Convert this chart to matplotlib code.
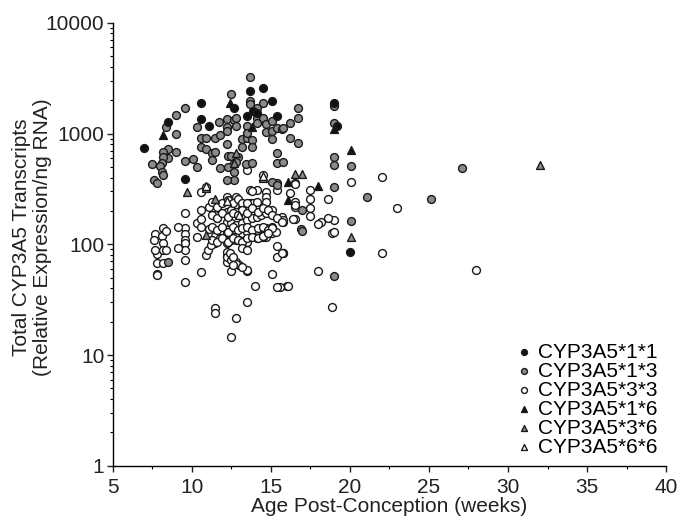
import matplotlib.pyplot as plt
from matplotlib.ticker import LogLocator, FixedLocator, NullFormatter

plt.rcParams['font.family'] = ['Liberation Sans', 'DejaVu Sans']

# CYP3A5*1*1 (black circles)
age_11 = [7.0, 8.5, 9.6, 10.6, 10.6, 11.1, 12.7, 13.7, 14.5, 15.1, 13.5, 13.9,
          14.1, 15.4, 19.0, 19.2, 20.0]
expr_11 = [733, 1282, 385, 1901, 1364, 1181, 1714, 2439, 2600, 1983, 1452, 1611,
           1546, 1452, 1901, 1181, 85]

# CYP3A5*1*3 (grey circles)
age_13 = [13.7, 12.5, 13.7, 13.7, 14.5, 9.0, 9.6, 8.4, 9.0, 9.0, 8.5, 8.5, 8.2, 8.2,
          8.1, 8.0, 7.5, 8.1, 8.2, 7.6, 7.8, 9.6, 10.1, 10.3, 10.3, 10.6, 10.6, 10.9,
          10.9, 11.3, 11.3, 11.5, 11.5, 11.8, 11.8, 11.7, 12.2, 12.7, 12.8, 12.2, 12.2,
          12.8, 12.2, 12.3, 12.5, 12.9, 12.7, 12.8, 12.3, 12.7, 12.7, 13.2, 13.2, 13.5,
          13.8, 13.8, 13.4, 13.8, 13.5, 13.5, 14.1, 14.1, 14.1, 14.5, 14.7, 14.7, 15.1,
          15.1, 15.1, 15.4, 15.7, 15.8, 15.4, 15.4, 15.8, 15.4, 16.2, 16.2, 16.7, 16.7,
          16.7, 17.0, 19.0, 19.0, 19.0, 19.0, 19.0, 20.1, 20.1, 21.1, 27.1, 25.1, 16.9,
          17.0, 19.0, 8.5, 12.2, 15.1, 15.4]
expr_13 = [3266, 2291, 1983, 1850, 1901, 1483, 1714, 1156, 980, 675, 718, 596, 675, 608,
           537, 505, 526, 446, 419, 378, 355, 560, 584, 494, 1156, 920, 748, 718,
           920, 661, 572, 675, 920, 960, 484, 1282, 1364, 1336, 1393, 1156, 1064,
           1181, 796, 621, 621, 608, 537, 548, 494, 446, 378, 901, 748, 920,
           865, 748, 526, 537, 1181, 1021, 1393, 1714, 1256, 1393, 1230, 1042, 1064,
           1309, 901, 1132, 1109, 1132, 661, 537, 548, 355, 1256, 920, 1714, 1393,
           813, 202, 1786, 1256, 608, 515, 327, 505, 161, 265, 484, 254, 137,
           131, 52, 69, 378, 362, 340]

# CYP3A5*3*3 (open circles)
age_33 = [22.0, 20.1, 23.0, 22.0, 28.0, 18.9, 19.0, 18.9, 19.0, 18.0, 18.2, 18.6, 17.5,
          17.5, 16.5, 16.2, 16.5, 16.5, 16.5, 15.8, 15.8, 16.0, 15.6,
          7.8, 7.8, 8.2, 7.8, 7.8, 9.6, 9.6, 10.6, 10.9, 12.2, 12.2, 12.8, 13.0, 13.5,
          12.5, 14.0, 15.1, 15.4, 16.1, 15.4, 15.8, 13.5, 11.5, 11.5, 12.8, 12.5,
          9.6, 9.6, 9.6, 9.6, 9.6, 9.6, 7.7, 7.6, 7.7, 8.2, 8.1, 8.4, 8.2, 8.2, 8.4,
          9.1, 9.1, 10.3, 10.6, 10.3, 10.6, 10.6, 10.6, 10.9, 11.1, 11.5, 11.6, 11.1,
          11.5, 11.5, 11.8, 11.8, 11.0, 11.2, 12.2, 12.5, 12.8,
          12.2, 12.5, 12.8, 13.2, 13.5, 13.7, 13.9, 14.1,
          12.2, 12.5, 12.8, 13.2, 13.5, 13.8, 14.1, 14.4, 14.7, 15.1,
          12.2, 12.5, 12.8, 13.2, 13.5, 13.8, 14.1, 14.4, 14.7, 15.1,
          12.2, 12.5, 12.8, 13.5, 14.1, 14.7,
          12.2, 12.2, 12.5, 12.8, 13.5,
          13.7, 14.1, 13.5, 14.5, 15.4, 16.5, 15.4, 15.7, 15.8, 15.4, 15.7, 14.5,
          14.5, 15.1, 15.3, 17.5, 17.5, 18.0, 18.6,
          13.8, 14.7, 14.7, 14.7, 16.5, 16.4,
          11.3, 11.6, 11.9, 12.3, 12.6, 12.9, 13.2, 13.5,
          11.3, 11.6, 11.9, 12.3, 12.6, 12.9, 13.2, 13.5, 13.8, 14.2, 14.5, 14.8,
          15.1, 15.4, 15.7,
          11.3, 11.6, 11.9, 12.3, 12.6, 12.9, 13.2, 13.5, 13.8, 14.2, 14.5, 14.8, 15.1,
          11.3, 11.6, 11.9, 12.3, 12.6, 12.9, 13.2, 13.5, 13.8, 14.2, 14.5, 14.8,
          12.4, 12.6, 13.2, 13.5, 12.6, 13.2]
expr_33 = [402, 362, 211, 84, 58, 27, 164, 126, 128, 57, 158, 259, 306,
           259, 355, 288, 239, 215, 168, 158, 84, 42, 41,
           81, 68, 68, 54, 53, 72, 46, 56, 80, 78, 69, 69, 65, 57,
           57, 42, 54, 41, 42, 77, 83, 30, 26.5, 24, 21.5, 14.5,
           190, 141, 125, 110, 102, 88, 125, 109, 88, 140, 120, 133, 102, 88, 88,
           142, 92, 155, 142, 116, 294, 202, 168, 327, 219, 182, 171, 136,
           120, 102, 128, 113, 88, 98, 265, 249, 265,
           194, 202, 194, 211, 224, 234, 234, 239,
           158, 155, 148, 155, 164, 171, 175, 182, 190, 202,
           126, 120, 116, 126, 128, 134, 134, 139, 139, 142,
           102, 109, 109, 104, 113, 116,
           85, 77, 72, 67, 58,
           306, 306, 464, 419, 306, 224, 171, 175, 164, 97, 84, 139,
           116, 126, 128, 211, 179, 154, 171,
           300, 294, 265, 240, 348, 168,
           239, 215, 234, 249, 234, 259, 234, 234,
           182, 171, 190, 175, 190, 182, 202, 190, 211, 194, 211, 202,
           182, 171, 158,
           142, 134, 142, 128, 142, 134, 139, 142, 134, 139, 142, 134, 139,
           109, 104, 113, 104, 113, 109, 104, 113, 116, 113, 120, 126,
           83, 76, 92, 88, 65, 62]

# CYP3A5*1*6 (black triangles)
age_16 = [8.2, 12.4, 13.8, 19.0, 20.1, 16.1, 16.1, 18.0]
expr_16 = [960, 1901, 1156, 1109, 703, 362, 249, 333]

# CYP3A5*3*6 (grey triangles)
age_36 = [9.7, 10.9, 14.5, 16.5, 17.0, 20.1, 12.8, 12.7, 11.5, 32.0, 10.9]
expr_36 = [294, 320, 394, 428, 428, 116, 661, 537, 254, 525, 121]

# CYP3A5*6*6 (open triangles)
age_66 = [14.5, 10.9, 12.2, 13.0]
expr_66 = [410, 335, 245, 185]

fig = plt.figure(figsize=(6.79, 5.17), dpi=100)
ax = fig.add_axes([0.166, 0.099, 0.815, 0.857])

kw = dict(s=32, edgecolors='#1a1a1a', linewidths=1.0, zorder=3)
ax.scatter(age_33, expr_33, marker='o', facecolors='white', label='CYP3A5*3*3', **kw)
ax.scatter(age_13, expr_13, marker='o', facecolors='#8a8a8a', label='CYP3A5*1*3', **kw)
ax.scatter(age_11, expr_11, marker='o', facecolors='#111111', label='CYP3A5*1*1', **kw)
ax.scatter(age_16, expr_16, marker='^', facecolors='#111111', label='CYP3A5*1*6', **kw)
ax.scatter(age_36, expr_36, marker='^', facecolors='#8a8a8a', label='CYP3A5*3*6', **kw)
ax.scatter(age_66, expr_66, marker='^', facecolors='white', label='CYP3A5*6*6', **kw)

ax.set_yscale('log')
ax.set_xlim(5, 40)
ax.set_ylim(1, 10000)
ax.set_xticks([5, 10, 15, 20, 25, 30, 35, 40])
ax.xaxis.set_minor_locator(FixedLocator([7.5, 12.5, 17.5, 22.5, 27.5, 32.5, 37.5]))
ax.set_yticks([1, 10, 100, 1000, 10000])
ax.set_yticklabels(['1', '10', '100', '1000', '10000'])
ax.yaxis.set_minor_locator(LogLocator(base=10, subs=range(2, 10), numticks=20))
ax.yaxis.set_minor_formatter(NullFormatter())

for side in ['top', 'right']:
    ax.spines[side].set_visible(False)
for side in ['left', 'bottom']:
    ax.spines[side].set_linewidth(1.0)
ax.tick_params(axis='x', which='major', pad=5)
ax.tick_params(axis='y', which='major', pad=2)
ax.tick_params(which='major', direction='out', length=4, width=1, labelsize=15, colors='#222222')
ax.tick_params(which='minor', direction='out', length=2.5, width=0.8)

ax.set_xlabel('Age Post-Conception (weeks)', fontsize=15, color='#222222', labelpad=0)
ax.set_ylabel('Total CYP3A5 Transcripts\n(Relative Expression/ng RNA)', fontsize=15,
              color='#222222', linespacing=1.1)
ax.yaxis.set_label_coords(-0.11, 0.515)

handles, labels = ax.get_legend_handles_labels()
order = ['CYP3A5*1*1', 'CYP3A5*1*3', 'CYP3A5*3*3', 'CYP3A5*1*6', 'CYP3A5*3*6', 'CYP3A5*6*6']
hmap = dict(zip(labels, handles))
ax.legend([hmap[k] for k in order], order, loc='lower right', frameon=False,
          fontsize=15, markerscale=0.75, handletextpad=0.3, labelspacing=0.0,
          borderpad=0, borderaxespad=0, handlelength=0.8,
          bbox_to_anchor=(0.985, 0.02))

fig.savefig('out.png', dpi=100)
